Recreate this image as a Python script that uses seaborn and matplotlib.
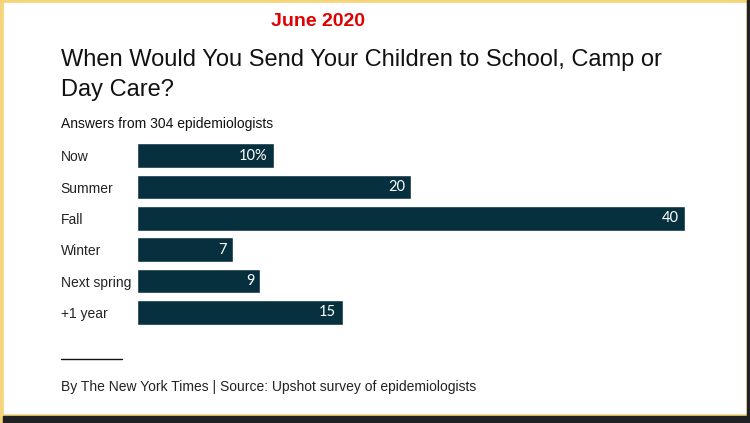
import matplotlib
matplotlib.use("Agg")
import matplotlib.pyplot as plt
import seaborn as sns
import pandas as pd
from matplotlib.patches import Rectangle

categorias = ["Now", "Summer", "Fall", "Winter", "Next spring", "+1 year"]
porcentajes = [10, 20, 40, 7, 9, 15]
etiquetas = ["10%", "20", "40", "7", "9", "15"]

df = pd.DataFrame({"Respuesta": categorias, "Porcentaje": porcentajes})

sns.set_theme(style="white")
plt.rcParams["font.family"] = ["Liberation Sans", "DejaVu Sans"]

W, H = 750, 423
fig = plt.figure(figsize=(7.5, 4.23), dpi=100)
fig.patch.set_facecolor("#f6d57a")

# marco: sombra oscura abajo/derecha, fondo blanco
fig.patches.append(Rectangle((3 / W, 0), 1, 7 / H, transform=fig.transFigure, color="#1f2124", zorder=-10))
fig.patches.append(Rectangle((747 / W, 0), 3 / W, 1, transform=fig.transFigure, color="#1f2124", zorder=-10))
fig.patches.append(Rectangle((4 / W, 10 / H), 741 / W, 410 / H, transform=fig.transFigure, color="white", zorder=-10))

ax = fig.add_axes([137 / W, (H - 328) / H, 548 / W, 188 / H])
ax.set_facecolor("none")
sns.barplot(data=df, x="Porcentaje", y="Respuesta", color="#07303f", width=0.79, saturation=1, ax=ax)
ax.set_xlim(0, 40)
ax.set_ylim(5.5, -0.5)
sns.despine(ax=ax, left=True, bottom=True)
ax.set_xticks([])
ax.set_xlabel("")
ax.set_ylabel("")
ax.tick_params(axis="y", length=0, pad=55)
for t in ax.get_yticklabels():
    t.set_horizontalalignment("left")
    t.set_fontsize(10)
    t.set_color("#222222")

for i, (v, lab) in enumerate(zip(porcentajes, etiquetas)):
    ax.text(v - 0.45, i, lab, color="white", ha="right", va="center", fontsize=10.5,
            family=["Lato", "DejaVu Sans"])

fig.text(318 / W, 1 - 22 / H, "June 2020", color="#e00000", fontsize=14, fontweight="bold",
         ha="center", va="center")
fig.text(61 / W, 1 - 60 / H, "When Would You Send Your Children to School, Camp or",
         fontsize=17, color="#111111", ha="left", va="center")
fig.text(61 / W, 1 - 90 / H, "Day Care?", fontsize=17, color="#111111", ha="left", va="center")
fig.text(61 / W, 1 - 124 / H, "Answers from 304 epidemiologists", fontsize=10, color="#111111",
         ha="left", va="center")

fig.lines.append(plt.Line2D([61 / W, 122 / W], [1 - 359 / H, 1 - 359 / H], transform=fig.transFigure,
                            color="#111111", linewidth=1))
fig.text(61 / W, 1 - 387 / H, "By The New York Times | Source: Upshot survey of epidemiologists",
         fontsize=10, color="#222222", ha="left", va="center")

fig.savefig("out.png", dpi=100)
